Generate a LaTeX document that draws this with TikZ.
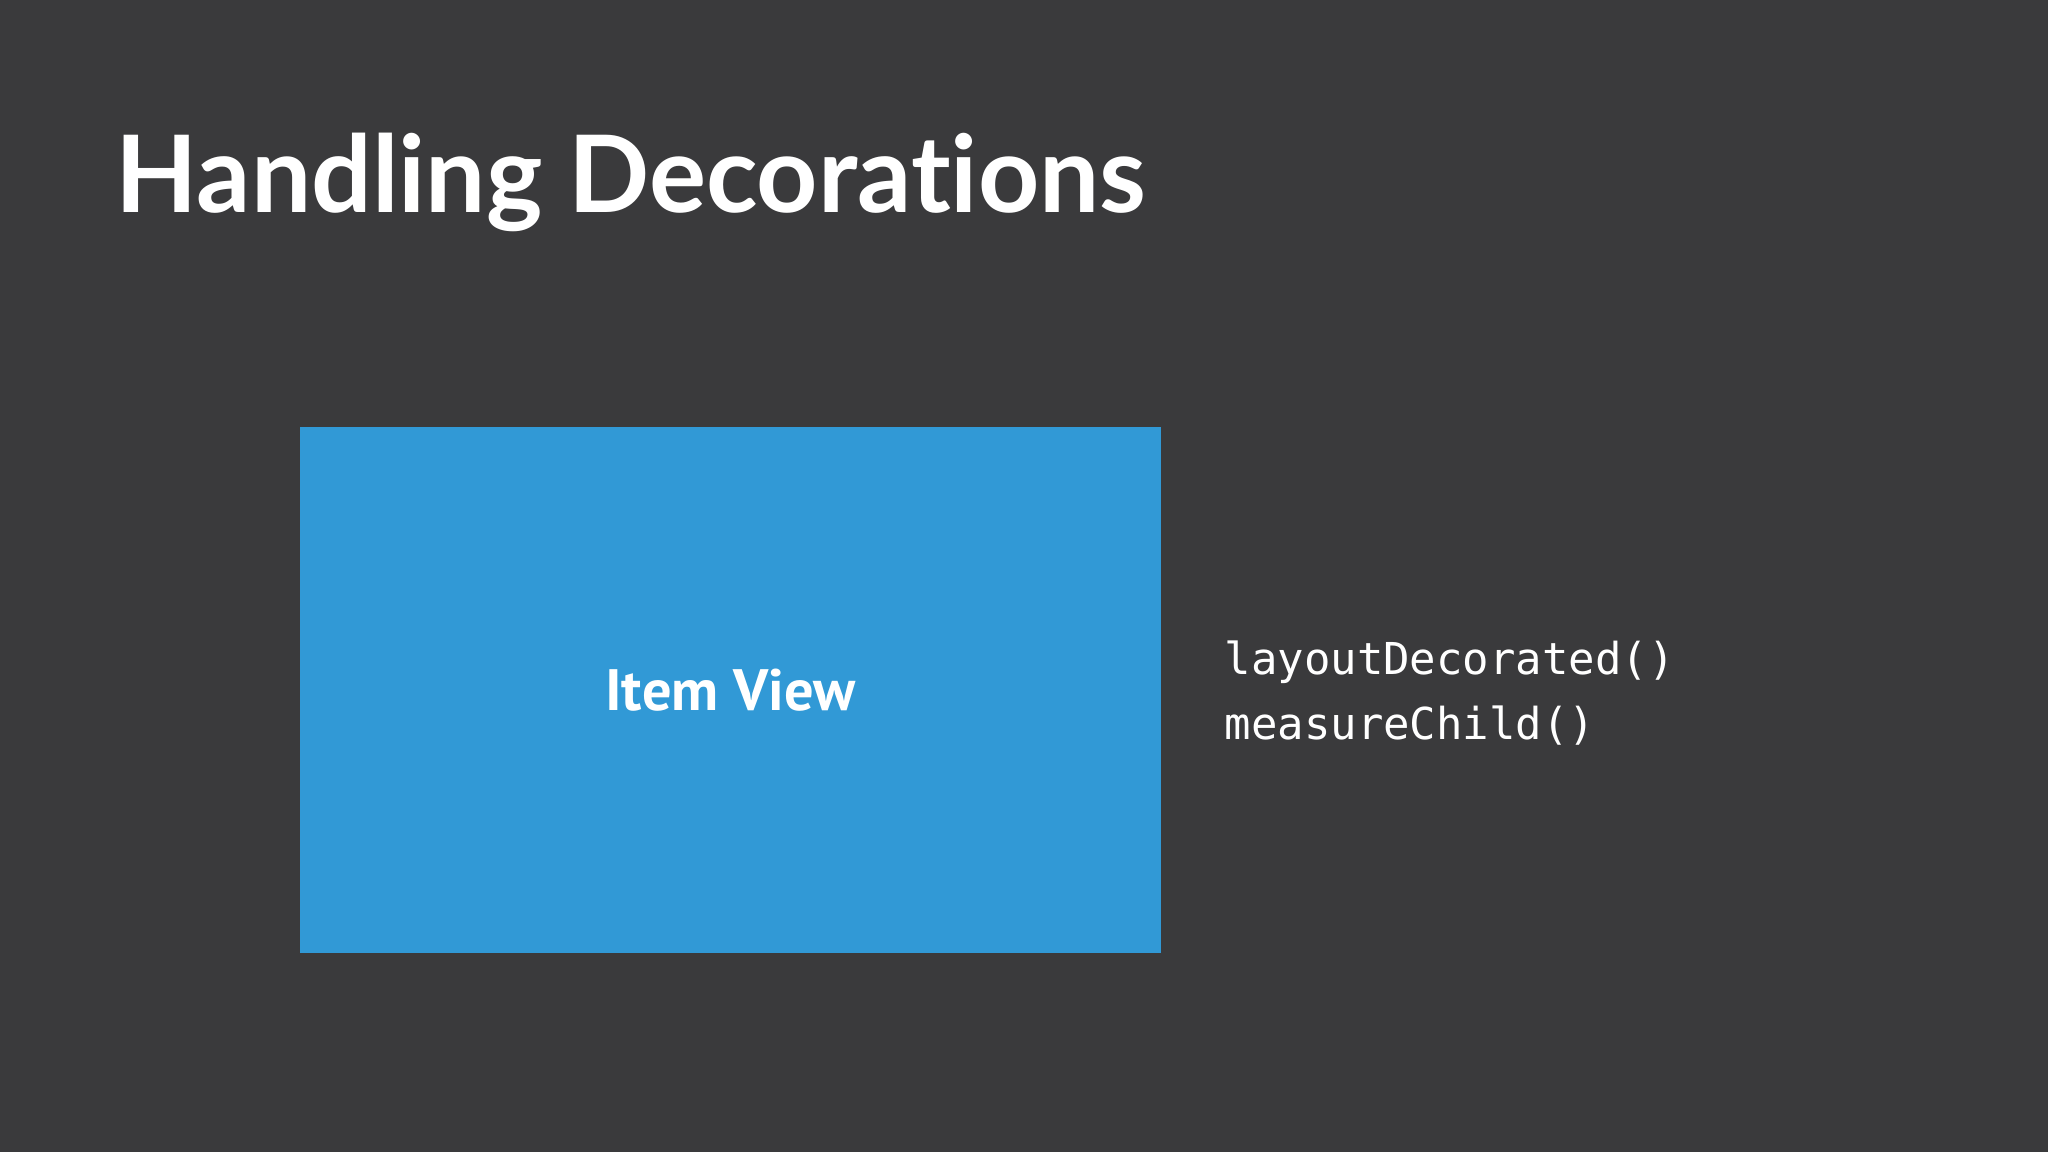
\documentclass[tikz,border=0pt]{standalone}
\usepackage{fontspec}
\setmainfont{Liberation Sans}
\newfontfamily\headfont{Lato}[RawFeature={-liga}]
\newfontfamily\labelfont{PT Sans}
\setmonofont{DejaVu Sans Mono}
\usetikzlibrary{positioning}
\definecolor{slidebg}{HTML}{3A3A3C}
\definecolor{itemblue}{HTML}{3199D6}

\begin{document}
\begin{tikzpicture}[
     % pixel grid of the slide
     x=0.01cm, y=-0.01cm,
     heading/.style={
         anchor=base west,
         inner sep=0pt,
         text=white,
         font=\headfont\bfseries\fontsize{30.4}{36}\selectfont
     },
     itembox/.style={
         rectangle,
         fill=itemblue,
         inner sep=0pt,
         minimum width=8.61cm,
         minimum height=5.26cm,
         text=white,
         font=\labelfont\bfseries\fontsize{16.6}{20}\selectfont
     },
     calls/.style={
         align=left,
         inner sep=0pt,
         text=white,
         font=\ttfamily\fontsize{12.5}{18.5}\selectfont
     }
]
% slide background
\fill[slidebg] (0,0) rectangle (2048,1152);
\node[heading] (title) at (115,213) {Handling Decorations};
% the child view and the calls that place it
\node[itembox] (view) at (730.5,690) {Item View};
\node[calls, right=0.62cm of view, yshift=-0.03cm] (methods) {layoutDecorated()\\measureChild()};
\end{tikzpicture}
\end{document}
